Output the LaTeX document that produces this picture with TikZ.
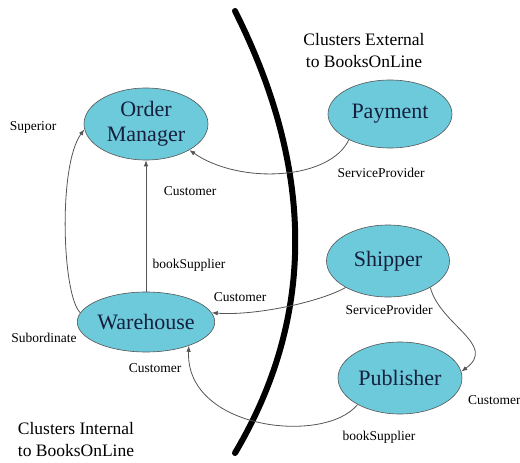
\documentclass[tikz,border=0pt]{standalone}
\usepackage{fontspec}
\setmainfont{Liberation Serif}
\usetikzlibrary{arrows.meta,shapes.geometric}
\definecolor{clfill}{RGB}{108,202,218}
\definecolor{cltext}{RGB}{22,32,62}
\definecolor{conncol}{RGB}{85,85,85}
\begin{document}
\begin{tikzpicture}[x=1pt,y=-1pt,
  cluster/.style={ellipse, draw=conncol, line width=0.6pt, fill=clfill, text=cltext,
    font=\fontsize{22}{25}\selectfont, inner sep=0pt, align=center},
  conn/.style={draw=conncol, line width=0.8pt, -{Latex[length=6pt,width=4.5pt]}},
  lbl/.style={font=\fontsize{13.5}{15}\selectfont, inner sep=0pt},
  big/.style={font=\fontsize{17.5}{22}\selectfont, align=center, inner sep=0pt}]
\useasboundingbox (0,0) rectangle (520,463);
% boundary
\draw[line width=6pt, line cap=round] (235,11) .. controls (325,190) and (305,335) .. (235,453);
% clusters
\node[cluster, minimum width=124pt, minimum height=72pt] (om) at (146,124) {Order\\Manager};
\node[cluster, minimum width=124pt, minimum height=60pt] (wh) at (146,322) {Warehouse};
\node[cluster, minimum width=124pt, minimum height=68pt] (pay) at (390,114) {Payment};
\node[cluster, minimum width=123pt, minimum height=72pt] (sh) at (388,261) {Shipper};
\node[cluster, minimum width=124pt, minimum height=72pt] (pub) at (400,378) {Publisher};
% connectors
\draw[conn] (wh.172) .. controls (62,295) and (58,165) .. (om.185);
\draw[conn] (wh.north) -- (om.south);
\draw[conn] (pay.212) .. controls (330,180) and (240,185) .. (om.-31);
\draw[conn] (sh.212) .. controls (320,302) and (255,316) .. (wh.8);
\draw[conn] (sh.-32) .. controls (440,325) and (498,345) .. (pub.6);
\draw[conn] (pub.212) .. controls (325,445) and (185,430) .. (wh.-29);
% labels
\node[lbl] (l1) at (33,127) {Superior};
\node[lbl] (l2) at (190,191) {Customer};
\node[lbl] (l3) at (189,265) {bookSupplier};
\node[lbl] (l4) at (240,297) {Customer};
\node[lbl] (l5) at (44,338) {Subordinate};
\node[lbl] (l6) at (155,368) {Customer};
\node[lbl] (l7) at (381,173) {ServiceProvider};
\node[lbl] (l8) at (389,310) {ServiceProvider};
\node[lbl, anchor=west] (l9) at (468,400) {Customer};
\node[lbl] (l10) at (379,437) {bookSupplier};
\node[big] (ext) at (364,51) {Clusters External\\to BooksOnLine};
\node[big] (int) at (76,440) {Clusters Internal\\to BooksOnLine};
\end{tikzpicture}
\end{document}
